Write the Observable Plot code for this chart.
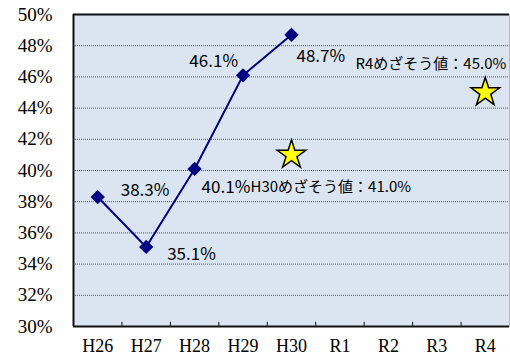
<!DOCTYPE html>
<html><head><meta charset="utf-8">
<script src="https://cdn.jsdelivr.net/npm/d3@7"></script>
<script src="https://cdn.jsdelivr.net/npm/@observablehq/plot@0.6"></script>
<style>
body{margin:0;background:#fff}
</style>
</head><body><div id="chart"></div>
<script>
const categories = ["H26","H27","H28","H29","H30","R1","R2","R3","R4"];
const actualYears = ["H26","H27","H28","H29","H30"];
const actualValues = [38.3, 35.1, 40.1, 46.1, 48.7];
const targetYears = ["H30","R4"];
const targetValues = [41.0, 45.0];
const targetLabels = ["H30めざそう値：41.0%","R4めざそう値：45.0%"];
const yTicks = [30,32,34,36,38,40,42,44,46,48,50];

const idx = c => categories.indexOf(c) + 0.5;
const actual = actualYears.map((c,i) => ({x: idx(c), v: actualValues[i], label: actualValues[i].toFixed(1) + "%"}));
const targets = targetYears.map((c,i) => ({x: idx(c), v: targetValues[i], label: targetLabels[i]}));
const labelOffsets = [
  {dx: 23, dy: -6, a: "start"},
  {dx: 21, dy: 8, a: "start"},
  {dx: 7, dy: 19, a: "start"},
  {dx: -5, dy: -14, a: "end"},
  {dx: 5, dy: 22, a: "start"}
];
const jp = "Noto Sans CJK JP";

const chart = Plot.plot({
  width: 510, height: 356,
  marginLeft: 73, marginRight: 1, marginTop: 14, marginBottom: 30,
  style: {background: "#fff", fontFamily: "Liberation Serif, Times New Roman, DejaVu Serif, serif"},
  x: {type: "linear", domain: [0, 9]},
  y: {domain: [30, 50]},
  marks: [
    Plot.frame({fill: "#dbe5f1", stroke: "#bbbbbb"}),
    Plot.ruleY(yTicks.slice(1, -1), {stroke: "#555", strokeDasharray: "1,1"}),
    Plot.ruleY([30, 50], {stroke: "#111", strokeWidth: 2}),
    Plot.ruleX([0], {stroke: "#111", strokeWidth: 2}),
    Plot.ruleX(d3.range(1, 9), {y1: 30, y2: 30.27, stroke: "#111"}),
    Plot.axisX(categories.map((c) => idx(c)), {
      tickSize: 0, tickPadding: 13, fontSize: 18, fill: "#000",
      tickFormat: d => categories[Math.floor(d)], label: null
    }),
    Plot.axisY(yTicks, {
      tickSize: 0, tickPadding: 21, fontSize: 19, fill: "#000",
      tickFormat: d => d + "%", label: null
    }),
    Plot.line(actual, {x: "x", y: "v", stroke: "#000080", strokeWidth: 2}),
    Plot.dot(actual, {x: "x", y: "v", symbol: "diamond2", r: 5.5, fill: "#000080", stroke: "#000080"}),
    ...actual.map((d, i) => Plot.text([d], {
      x: "x", y: "v", text: "label", dx: labelOffsets[i].dx, dy: labelOffsets[i].dy,
      textAnchor: labelOffsets[i].a, fontSize: 17, fontFamily: jp, fill: "#000"
    })),
    Plot.dot(targets, {x: "x", y: "v", symbol: "star", r: 9, fill: "#ffff00", stroke: "#000", strokeWidth: 1.5}),
    Plot.text([targets[0]], {x: "x", y: "v", text: "label", dx: -41, dy: 32, textAnchor: "start", fontSize: 15, fontFamily: jp, fill: "#000"}),
    Plot.text([targets[1]], {x: "x", y: "v", text: "label", dx: 21, dy: -28, textAnchor: "end", fontSize: 15, fontFamily: jp, fill: "#000"})
  ]
});
document.getElementById("chart").appendChild(chart);
</script>
</body></html>
